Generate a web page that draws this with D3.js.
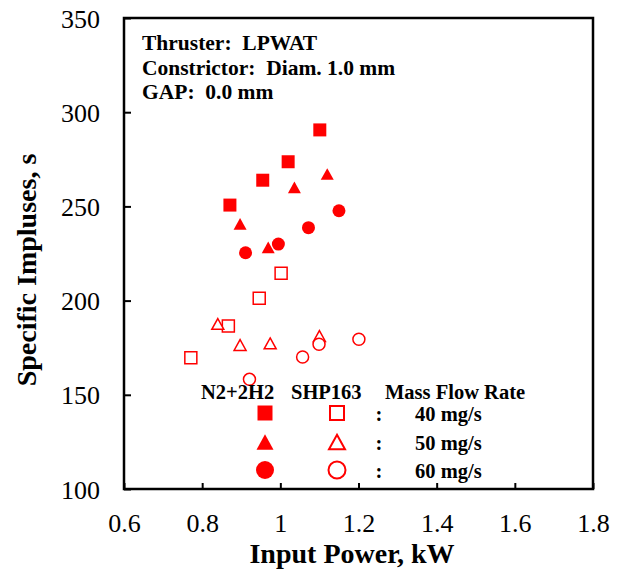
<!doctype html>
<html lang="en">
<head>
  <meta charset="utf-8">
  <title>Specific impulse vs input power</title>
  <style>
  body { margin: 0; background: #fff; }
  svg text { font-family: "Liberation Serif", "Times New Roman", serif; fill: #000; }
  .tick-label { font-size: 26px; }
  .bold { font-weight: bold; }
  </style>
</head>
<body>
  <div id="chart"></div>
  <script src="https://cdn.jsdelivr.net/npm/d3@7"></script>
  <script>
// data: input power (kW) and specific impulse (s)
var n2h2_40_power = [0.871, 0.955, 1.020, 1.101];
var n2h2_40_isp   = [250.7, 263.9, 273.7, 290.6];
var n2h2_50_power = [0.897, 0.969, 1.036, 1.120];
var n2h2_50_isp   = [240.7, 228.3, 260.1, 267.2];
var n2h2_60_power = [0.911, 0.995, 1.072, 1.150];
var n2h2_60_isp   = [225.4, 230.0, 238.7, 247.7];

var shp_40_power = [0.771, 0.867, 0.946, 1.002];
var shp_40_isp   = [169.7, 186.5, 201.2, 214.5];
var shp_50_power = [0.840, 0.897, 0.974, 1.100];
var shp_50_isp   = [187.6, 176.4, 177.3, 181.2];
var shp_60_power = [0.921, 1.057, 1.099, 1.201];
var shp_60_isp   = [158.2, 170.1, 176.8, 179.5];

var xTicks = [0.6, 0.8, 1.0, 1.2, 1.4, 1.6, 1.8];
var yTicks = [100, 150, 200, 250, 300, 350];
var flowRates = ["40 mg/s", "50 mg/s", "60 mg/s"];
var notes = ["Thruster:  LPWAT", "Constrictor:  Diam. 1.0 mm", "GAP:  0.0 mm"];

(function() {
  var width = 622, height = 574;
  var left = 124, right = 593, top = 18, bottom = 489;
  var red = "#ff0000";

  var svg = d3.select("#chart").append("svg")
      .attr("width", width)
      .attr("height", height);

  var x = d3.scaleLinear().domain([0.6, 1.8]).range([left, right]);
  var y = d3.scaleLinear().domain([100, 350]).range([bottom, top]);

  // inward ticks, left and bottom only
  var xAxis = d3.axisBottom(x).tickValues(xTicks).tickSize(-6).tickFormat(d3.format("~g"));
  var yAxis = d3.axisLeft(y).tickValues(yTicks).tickSize(-7);

  var gx = svg.append("g").attr("transform", "translate(0," + bottom + ")").call(xAxis);
  var gy = svg.append("g").attr("transform", "translate(" + left + ",0)").call(yAxis);
  [gx, gy].forEach(function(g) {
    g.select(".domain").remove();
    g.selectAll(".tick line").attr("stroke", "#000").attr("stroke-width", 2);
    g.selectAll(".tick text").attr("class", "tick-label").attr("fill", "#000");
  });
  gx.selectAll(".tick text").attr("y", 0).attr("dy", 43);
  gy.selectAll(".tick text").attr("x", -24).attr("dy", "0.35em");

  svg.append("rect")
      .attr("x", left).attr("y", top)
      .attr("width", right - left).attr("height", bottom - top)
      .attr("fill", "none").attr("stroke", "#000").attr("stroke-width", 2.5);

  // axis titles
  svg.append("text").attr("class", "bold")
      .attr("x", 352).attr("y", 563)
      .attr("text-anchor", "middle").style("font-size", "28px")
      .text("Input Power, kW");
  svg.append("text").attr("class", "bold")
      .attr("transform", "translate(36,270) rotate(-90)")
      .attr("text-anchor", "middle").style("font-size", "28px")
      .text("Specific Impluses, s");

  // annotation
  svg.append("g").selectAll("text").data(notes).enter()
    .append("text").attr("class", "bold")
      .attr("x", 142).attr("y", function(d, i) { return 50 + i * 24.5; })
      .style("font-size", "21.5px").style("white-space", "pre")
      .attr("xml:space", "preserve")
      .text(function(d) { return d; });

  // marker shapes, centred on their bounding box
  function shapePath(kind, s) {
    var h = s / 2;
    if (kind === "square") return "M" + (-h) + "," + (-h) + "h" + s + "v" + s + "h" + (-s) + "Z";
    if (kind === "triangle") {
      var th = s * 0.9 / 2;
      return "M0," + (-th) + "L" + h + "," + th + "L" + (-h) + "," + th + "Z";
    }
    return d3.arc()({innerRadius: 0, outerRadius: h, startAngle: 0, endAngle: 2 * Math.PI});
  }

  var series = [
    {kind: "square",   filled: true,  power: n2h2_40_power, isp: n2h2_40_isp},
    {kind: "triangle", filled: true,  power: n2h2_50_power, isp: n2h2_50_isp},
    {kind: "circle",   filled: true,  power: n2h2_60_power, isp: n2h2_60_isp},
    {kind: "square",   filled: false, power: shp_40_power,  isp: shp_40_isp},
    {kind: "triangle", filled: false, power: shp_50_power,  isp: shp_50_isp},
    {kind: "circle",   filled: false, power: shp_60_power,  isp: shp_60_isp}
  ];

  function styleMarker(sel, filled) {
    sel.attr("fill", filled ? red : "#fff")
       .attr("stroke", filled ? "none" : red)
       .attr("stroke-width", filled ? 0 : 1.5);
  }

  series.forEach(function(s) {
    var size = s.filled ? 13 : 12;
    var pts = s.power.map(function(p, i) { return [p, s.isp[i]]; });
    svg.append("g").selectAll("path").data(pts).enter()
      .append("path")
        .attr("d", shapePath(s.kind, size))
        .attr("transform", function(d) { return "translate(" + x(d[0]) + "," + y(d[1]) + ")"; })
        .call(styleMarker, s.filled);
  });

  // legend
  var lg = svg.append("g").attr("class", "bold").style("font-size", "20.5px");
  lg.append("text").attr("x", 201).attr("y", 399).text("N2+2H2");
  lg.append("text").attr("x", 291).attr("y", 399).text("SHP163");
  lg.append("text").attr("x", 385).attr("y", 399).text("Mass Flow Rate");

  var kinds = ["square", "triangle", "circle"];
  var rowY = [413, 442, 470];
  var legendSize = [15, 17, 18];
  flowRates.forEach(function(label, i) {
    lg.append("path").attr("d", shapePath(kinds[i], legendSize[i]))
      .attr("transform", "translate(265," + rowY[i] + ")").call(styleMarker, true);
    lg.append("path").attr("d", shapePath(kinds[i], legendSize[i] - 1))
      .attr("transform", "translate(337," + rowY[i] + ")").call(styleMarker, false)
      .attr("stroke-width", 2);
    lg.append("text").attr("x", 379).attr("y", rowY[i] + 8).attr("text-anchor", "middle").text(":");
    lg.append("text").attr("x", 415).attr("y", rowY[i] + 8).text(label);
  });
})();
  </script>
</body>
</html>
